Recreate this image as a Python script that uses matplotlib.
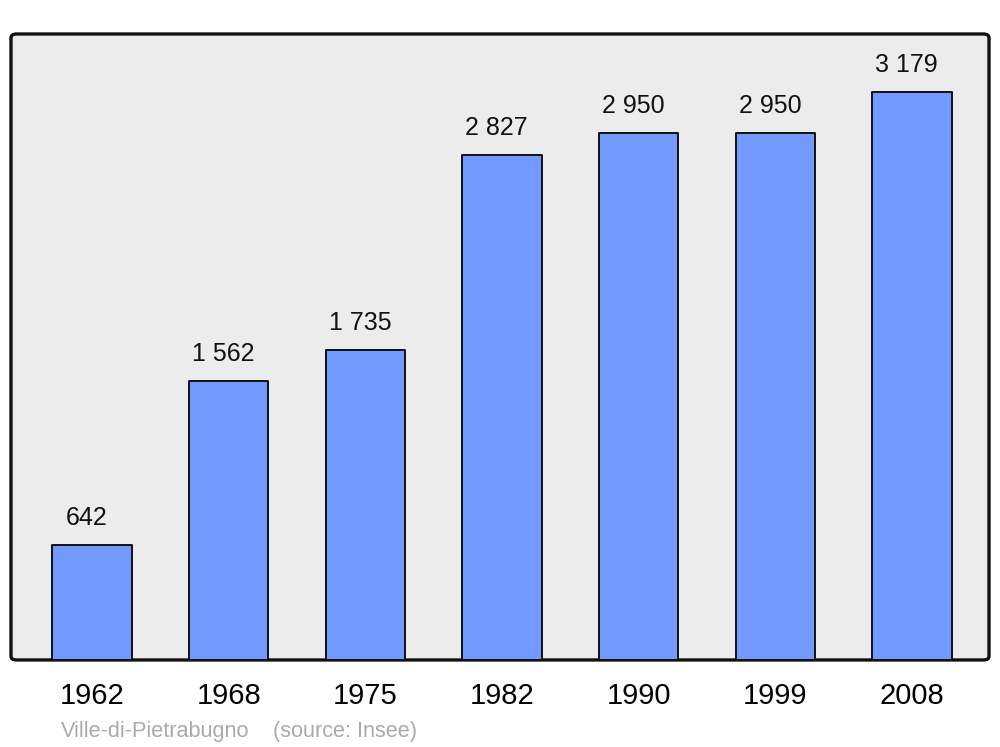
#!/usr/bin/env python3
import matplotlib
matplotlib.use("Agg")
import matplotlib.pyplot as plt
from matplotlib.patches import FancyBboxPatch


YEARS = ["1962", "1968", "1975", "1982", "1990", "1999", "2008"]
POPULATION = [642, 1562, 1735, 2827, 2950, 2950, 3179]
PLACE = "Ville-di-Pietrabugno"
SOURCE = "(source: Insee)"


def fmt(v):
    return f"{v:,}".replace(",", " ")


def main():
    plt.rcParams["font.family"] = ["Liberation Sans", "DejaVu Sans"]
    fig = plt.figure(figsize=(10, 7.47), dpi=100)
    ax = fig.add_axes([0.011, 0.1165, 0.978, 0.838])

    ax.patch.set_visible(False)
    for s in ax.spines.values():
        s.set_visible(False)
    frame = FancyBboxPatch(
        (0, 0), 1, 1,
        boxstyle="round,pad=0,rounding_size=0.006",
        transform=ax.transAxes,
        facecolor="#ececec", edgecolor="#111111", linewidth=2.4,
        clip_on=False, zorder=0,
    )
    ax.add_patch(frame)

    x = list(range(len(YEARS)))
    bars = ax.bar(x, POPULATION, width=0.58, color="#7299ff",
                  edgecolor="#111111", linewidth=1.4, zorder=2)
    for b in bars:
        b.set_joinstyle("round")

    for xi, v in zip(x, POPULATION):
        ax.annotate(fmt(v), (xi, v), xytext=(-4, 11), textcoords="offset points",
                    ha="center", va="bottom", fontsize=18, color="#111111")

    ax.set_xlim(-0.593, 6.563)
    ax.set_ylim(0, 3503)
    ax.set_xticks(x)
    ax.set_xticklabels(YEARS, fontsize=21)
    ax.tick_params(axis="x", length=0, pad=16)
    ax.set_yticks([])

    fig.text(0.061, 0.013, PLACE, fontsize=15.6, color="#aaaaaa", ha="left", va="baseline")
    fig.text(0.273, 0.013, SOURCE, fontsize=15.6, color="#aaaaaa", ha="left", va="baseline")

    fig.savefig("out.png", dpi=100)
    plt.close(fig)


if __name__ == "__main__":
    main()
